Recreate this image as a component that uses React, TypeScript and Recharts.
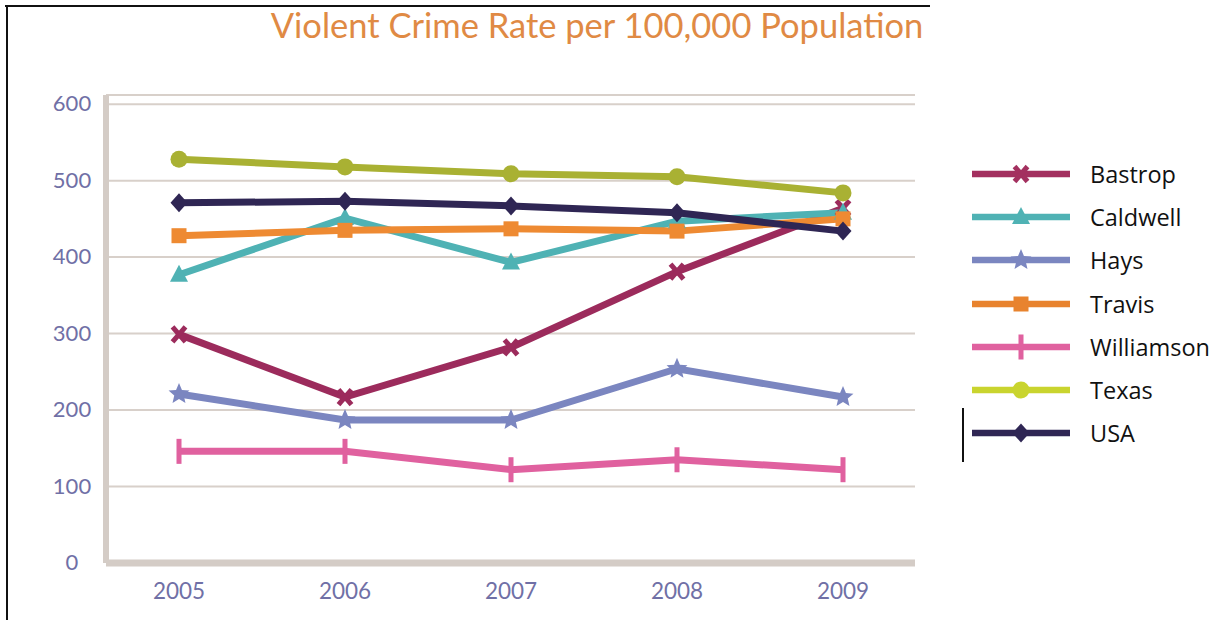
import React from 'react';
import { LineChart, Line, XAxis, YAxis, CartesianGrid } from 'recharts';

const years = ['2005', '2006', '2007', '2008', '2009'];
const bastrop = [299, 217, 282, 381, 464];
const caldwell = [377, 451, 393, 447, 458];
const hays = [221, 187, 187, 254, 217];
const travis = [428, 435, 437, 434, 450];
const williamson = [146, 146, 122, 135, 122];
const texas = [528, 518, 509, 505, 484];
const usa = [471, 473, 467, 458, 434];
const yTicks = [0, 100, 200, 300, 400, 500, 600];
const title = 'Violent Crime Rate per 100,000 Population';

const series = [
  { name: 'Bastrop', values: bastrop, color: '#9c2b5c', legendColor: '#a3305f', shape: 'x' },
  { name: 'Caldwell', values: caldwell, color: '#4fb2b4', legendColor: '#4fb2b4', shape: 'triangle' },
  { name: 'Hays', values: hays, color: '#7b86c0', legendColor: '#7b86c0', shape: 'star' },
  { name: 'Travis', values: travis, color: '#ee8a32', legendColor: '#e8832e', shape: 'square' },
  { name: 'Williamson', values: williamson, color: '#e0619f', legendColor: '#e0619f', shape: 'bar' },
  { name: 'Texas', values: texas, color: '#a9b133', legendColor: '#c9d42e', shape: 'circle' },
  { name: 'USA', values: usa, color: '#2f2654', legendColor: '#2f2654', shape: 'diamond' },
];

const data = years.map((y, i) => {
  const row: Record<string, any> = { year: y };
  series.forEach((s) => {
    row[s.name] = s.values[i];
  });
  return row;
});

function starPoints(cx: number, cy: number, R: number, r: number) {
  const pts: string[] = [];
  for (let i = 0; i < 10; i++) {
    const rad = i % 2 === 0 ? R : r;
    const a = -Math.PI / 2 + (i * Math.PI) / 5;
    pts.push(`${cx + rad * Math.cos(a)},${cy + rad * Math.sin(a)}`);
  }
  return pts.join(' ');
}

function Marker({ cx, cy, shape, color }: { cx: number; cy: number; shape: string; color: string }) {
  switch (shape) {
    case 'x':
      return (
        <g>
          <line x1={cx - 6.5} y1={cy - 7.5} x2={cx + 6.5} y2={cy + 7.5} stroke={color} strokeWidth={5} />
          <line x1={cx - 6.5} y1={cy + 7.5} x2={cx + 6.5} y2={cy - 7.5} stroke={color} strokeWidth={5} />
        </g>
      );
    case 'triangle':
      return <polygon points={`${cx},${cy - 10} ${cx + 9},${cy + 7} ${cx - 9},${cy + 7}`} fill={color} />;
    case 'star':
      return <polygon points={starPoints(cx, cy, 11, 5)} fill={color} />;
    case 'square':
      return <rect x={cx - 7.5} y={cy - 7.5} width={15} height={15} fill={color} />;
    case 'bar':
      return <rect x={cx - 2.5} y={cy - 12.5} width={5} height={25} fill={color} />;
    case 'circle':
      return <circle cx={cx} cy={cy} r={8.5} fill={color} />;
    case 'diamond':
      return <polygon points={`${cx},${cy - 9.5} ${cx + 8.5},${cy} ${cx},${cy + 9.5} ${cx - 8.5},${cy}`} fill={color} />;
    default:
      return null;
  }
}

const tickColor = '#7070a6';

const XTick = (props: any) => {
  const { x, y, payload } = props;
  return (
    <text x={x} y={y} dy={28} textAnchor="middle" fill={tickColor} fontSize={22.5} fontFamily="Lato, 'Open Sans', sans-serif">
      {payload.value}
    </text>
  );
};

const YTick = (props: any) => {
  const { x, y, payload } = props;
  return (
    <text x={x - 26} y={y} dy={7} textAnchor="middle" fill={tickColor} fontSize={22} fontFamily="Lato, 'Open Sans', sans-serif">
      {payload.value}
    </text>
  );
};

const ChartLegend = () => (
  <div style={{ position: 'absolute', left: 972, top: 152, fontFamily: "'Open Sans', sans-serif" }}>
    {series.map((s) => (
      <div key={s.name} style={{ display: 'flex', alignItems: 'center', height: 43.3 }}>
        <svg width={100} height={28} style={{ display: 'block' }}>
          <line x1={0} y1={14} x2={98} y2={14} stroke={s.legendColor} strokeWidth={6.5} />
          <Marker cx={49} cy={14} shape={s.shape} color={s.legendColor} />
        </svg>
        <span style={{ marginLeft: 18, fontSize: 23.5, color: '#111', lineHeight: '28px', whiteSpace: 'nowrap' }}>{s.name}</span>
      </div>
    ))}
  </div>
);

export default function App() {
  return (
    <div style={{ position: 'absolute', left: 0, top: 0, width: 1218, height: 620, background: '#fff', overflow: 'hidden' }}>
      <div style={{ position: 'absolute', left: 5, top: 5, width: 925, height: 2, background: '#111' }} />
      <div style={{ position: 'absolute', left: 6, top: 5, width: 2, height: 620, background: '#111' }} />
      <div style={{ position: 'absolute', left: 962, top: 408, width: 1.5, height: 54, background: '#111' }} />
      <div
        style={{
          position: 'absolute',
          left: 0,
          top: 5,
          width: 1194,
          textAlign: 'center',
          fontFamily: "Lato, 'Open Sans', sans-serif",
          fontSize: 34.5,
          lineHeight: '40px',
          color: '#e08a44',
          whiteSpace: 'nowrap',
        }}
      >
        {title}
      </div>
      <div style={{ position: 'absolute', left: 0, top: 0 }}>
        <LineChart width={1218} height={620} data={data} margin={{ top: 95, right: 303, bottom: 0, left: 0 }}>
          <CartesianGrid vertical={false} stroke="#d8d0ca" strokeWidth={2} />
          <XAxis
            dataKey="year"
            height={57}
            padding={{ left: 73, right: 72 }}
            axisLine={{ stroke: '#d4ccc6', strokeWidth: 7 }}
            tickLine={false}
            tick={<XTick />}
            interval={0}
          />
          <YAxis
            width={106}
            domain={[0, 612]}
            ticks={yTicks}
            axisLine={{ stroke: '#d4ccc6', strokeWidth: 6 }}
            tickLine={false}
            tick={<YTick />}
            interval={0}
          />
          {series.map((s) => (
            <Line
              key={s.name}
              type="linear"
              dataKey={s.name}
              stroke={s.color}
              strokeWidth={7}
              isAnimationActive={false}
              dot={(p: any) => <Marker key={`${s.name}-${p.index}`} cx={p.cx} cy={p.cy} shape={s.shape} color={s.color} />}
              activeDot={false}
            />
          ))}
        </LineChart>
      </div>
      <ChartLegend />
    </div>
  );
}
